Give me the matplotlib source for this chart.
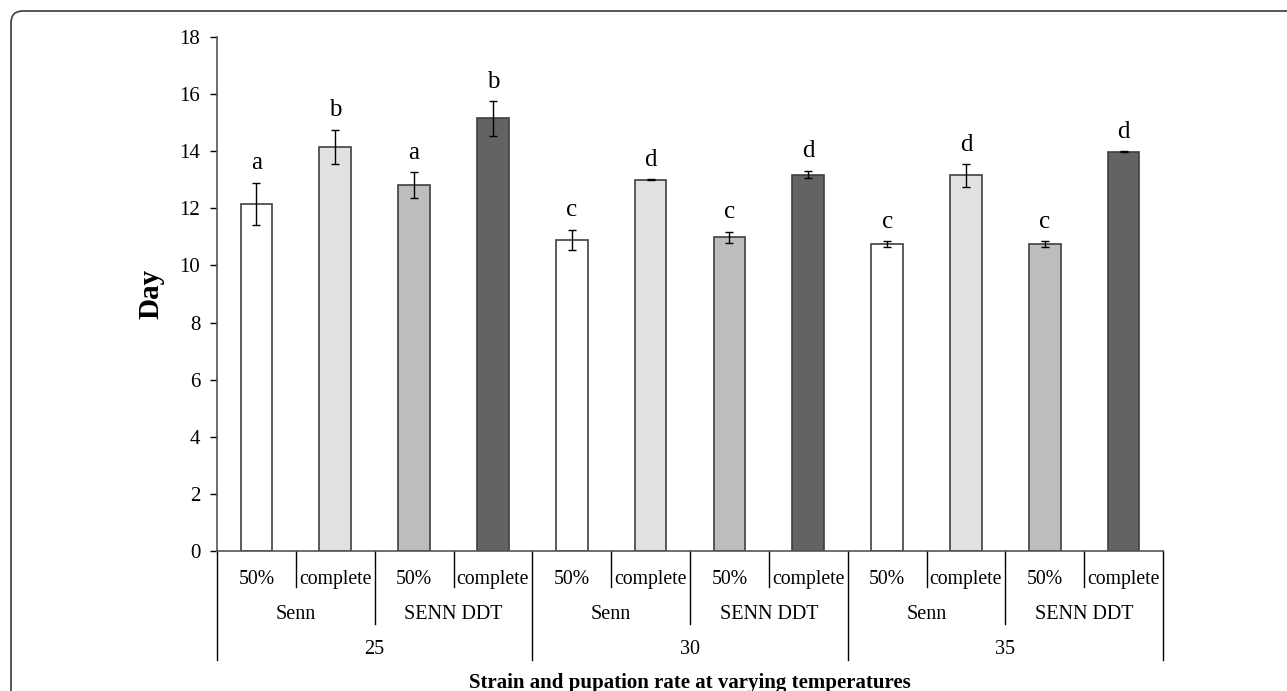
import matplotlib
matplotlib.use("Agg")
import matplotlib.pyplot as plt
from matplotlib.patches import FancyBboxPatch
from matplotlib.transforms import IdentityTransform, blended_transform_factory

plt.rcParams['font.family'] = ['Liberation Serif', 'DejaVu Serif']

# Development time (days) per temperature / strain / pupation stage
temperatures = ["25", "30", "35"]
strains = ["Senn", "SENN DDT"]
stages = ["50%", "complete"]
days = [12.15, 14.15, 12.82, 15.15,
        10.90, 13.00, 10.98, 13.18,
        10.74, 13.15, 10.74, 13.98]
errors = [0.75, 0.60, 0.45, 0.60,
          0.35, 0.02, 0.20, 0.13,
          0.10, 0.40, 0.10, 0.02]
letters = ["a", "b", "a", "b",
           "c", "d", "c", "d",
           "c", "d", "c", "d"]
fills = ["#ffffff", "#e1e1e1", "#bdbdbd", "#636363"]

fig = plt.figure(figsize=(12.87, 6.91), dpi=100)
ax = fig.add_axes([217 / 1287, 1 - 551 / 691, 946 / 1287, 514 / 691])

n = len(days)
xs = list(range(n))
colors = [fills[i % 4] for i in xs]
ax.bar(xs, days, width=0.4, color=colors, edgecolor="#404040", linewidth=1.2, zorder=2)
ax.errorbar(xs, days, yerr=errors, fmt="none", ecolor="black", elinewidth=1.0,
            capsize=3, capthick=1.0, zorder=3)
for x, v, e, t in zip(xs, days, errors, letters):
    ax.text(x, v + e + 0.3, t, ha="center", va="bottom", fontsize=18)

ax.set_xlim(-0.5, n - 0.5)
ax.set_ylim(0, 18)
ax.set_yticks(range(0, 19, 2))
ax.tick_params(axis="y", direction="out", length=5, width=1, pad=7,
               labelsize=15, colors="black")
ax.tick_params(axis="x", bottom=False, labelbottom=False)
for s in ["top", "right"]:
    ax.spines[s].set_visible(False)
ax.spines["left"].set_color("#555555")
ax.spines["bottom"].set_color("#555555")
ax.spines["left"].set_linewidth(1.2)
ax.spines["bottom"].set_linewidth(1.2)

ax.set_ylabel("Day", fontsize=21, fontweight="bold")
ax.yaxis.set_label_coords(-0.056, 0.5)

# Multi-level category axis
tr = blended_transform_factory(ax.transData, ax.transAxes)
sep_kw = dict(transform=tr, color="black", linewidth=1.0, clip_on=False)
lvl1_y, lvl2_y, lvl3_y = -0.070, -0.142, -0.212
for b in range(n + 1):
    xb = b - 0.5
    if b % 4 == 0:
        yb = lvl3_y
    elif b % 2 == 0:
        yb = lvl2_y
    else:
        yb = lvl1_y
    ax.plot([xb, xb], [0, yb], **sep_kw)

for i in xs:
    ax.text(i, -0.0545, stages[i % 2], transform=tr, ha="center", va="center", fontsize=14.2)
for j in range(n // 2):
    ax.text(2 * j + 0.5, -0.1226, strains[j % 2], transform=tr, ha="center", va="center", fontsize=14.5)
for k, t in enumerate(temperatures):
    ax.text(4 * k + 1.5, -0.1907, t, transform=tr, ha="center", va="center", fontsize=14.5)

ax.text(0.5, -0.256, "Strain and pupation rate at varying temperatures", transform=ax.transAxes,
        ha="center", va="center", fontsize=15, fontweight="bold")

# Frame around the figure (top and left edges with a rounded corner)
frame = FancyBboxPatch((11, -40), 1500, 40 + 680,
                       boxstyle="round,pad=0,rounding_size=12",
                       transform=IdentityTransform(), fill=False,
                       edgecolor="#4a4a4a", linewidth=1.3)
fig.add_artist(frame)

fig.savefig("out.png", dpi=100)
